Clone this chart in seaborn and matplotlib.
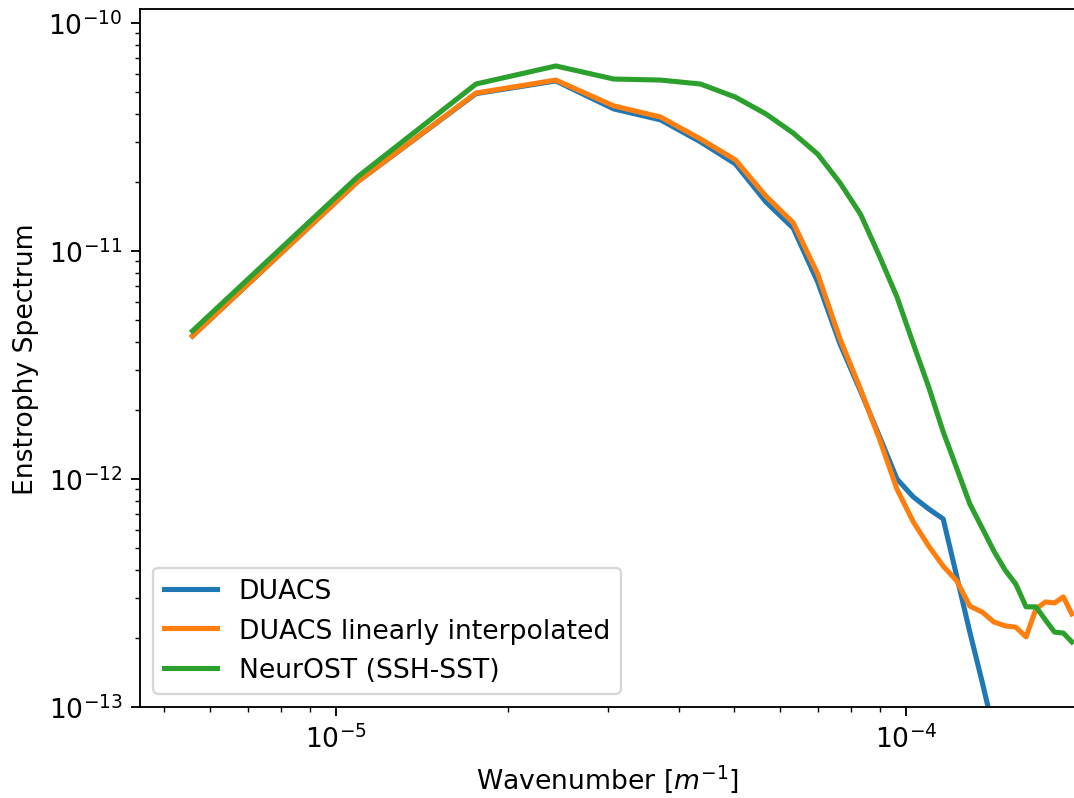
import numpy as np
import pandas as pd
import matplotlib
matplotlib.use('Agg')
import matplotlib.pyplot as plt
import seaborn as sns

# wavenumber bins [1/m]
wavenumber = [5.6e-6, 10.9e-6, 17.6e-6, 24.3e-6, 30.7e-6, 37.1e-6, 43.6e-6, 50.2e-6,
              56.8e-6, 63.4e-6, 70.0e-6, 76.6e-6, 83.2e-6, 89.8e-6, 96.4e-6, 103.0e-6,
              109.6e-6, 116.2e-6, 122.8e-6, 129.4e-6, 136.0e-6, 142.6e-6, 149.2e-6,
              155.8e-6, 162.4e-6, 169.0e-6, 175.6e-6, 182.2e-6, 188.8e-6, 195.4e-6]

duacs = [4.24e-12, 2.01e-11, 4.90e-11, 5.57e-11, 4.20e-11, 3.76e-11, 3.01e-11, 2.41e-11,
         1.64e-11, 1.26e-11, 7.31e-12, 3.91e-12, 2.43e-12, 1.54e-12, 1.00e-12, 8.34e-13,
         7.39e-13, 6.68e-13, 3.72e-13, 2.13e-13, 1.29e-13, 7.8e-14, 5.0e-14, 3.2e-14,
         2.1e-14, 1.5e-14, 1.1e-14, 8.5e-15, 6.8e-15, 5.5e-15]

duacs_interp = [4.24e-12, 2.01e-11, 4.93e-11, 5.62e-11, 4.33e-11, 3.87e-11, 3.10e-11, 2.51e-11,
                1.74e-11, 1.33e-11, 7.93e-12, 4.11e-12, 2.48e-12, 1.50e-12, 9.04e-13, 6.48e-13,
                5.08e-13, 4.15e-13, 3.57e-13, 2.77e-13, 2.61e-13, 2.36e-13, 2.27e-13, 2.24e-13,
                2.03e-13, 2.69e-13, 2.89e-13, 2.86e-13, 3.04e-13, 2.56e-13]

neurost = [4.46e-12, 2.11e-11, 5.40e-11, 6.48e-11, 5.68e-11, 5.62e-11, 5.40e-11, 4.73e-11,
           3.99e-11, 3.29e-11, 2.66e-11, 1.99e-11, 1.45e-11, 9.51e-12, 6.29e-12, 3.91e-12,
           2.53e-12, 1.61e-12, 1.11e-12, 7.77e-13, 6.10e-13, 4.83e-13, 3.99e-13, 3.46e-13,
           2.75e-13, 2.75e-13, 2.41e-13, 2.13e-13, 2.11e-13, 1.93e-13]

labels = ['DUACS', 'DUACS linearly interpolated', 'NeurOST (SSH-SST)']

frames = []
for name, vals in zip(labels, [duacs, duacs_interp, neurost]):
    frames.append(pd.DataFrame({'k': wavenumber, 'E': vals, 'method': name}))
df = pd.concat(frames, ignore_index=True)

plt.rcParams['font.size'] = 11.5
plt.rcParams['xtick.major.size'] = 4.0
plt.rcParams['ytick.major.size'] = 4.0
plt.rcParams['xtick.minor.size'] = 2.3
plt.rcParams['ytick.minor.size'] = 2.3

dpi = 167
fig = plt.figure(figsize=(1074 / dpi, 799 / dpi), dpi=dpi)
ax = fig.add_axes([140 / 1074, (799 - 708) / 799, 936 / 1074, 698 / 799])

sns.lineplot(data=df, x='k', y='E', hue='method', hue_order=labels,
             palette=['#1f77b4', '#ff7f0e', '#2ca02c'], estimator=None,
             linewidth=2.2, ax=ax)

ax.set_xscale('log')
ax.set_yscale('log')
ax.set_xlim(4.53e-6, 1.987e-4)
ax.set_ylim(1e-13, 1.152e-10)
ax.set_xlabel('Wavenumber [$m^{-1}$]')
ax.set_ylabel('Enstrophy Spectrum')
ax.legend(loc='lower left', title=None)

fig.savefig('out.png', dpi=dpi)
